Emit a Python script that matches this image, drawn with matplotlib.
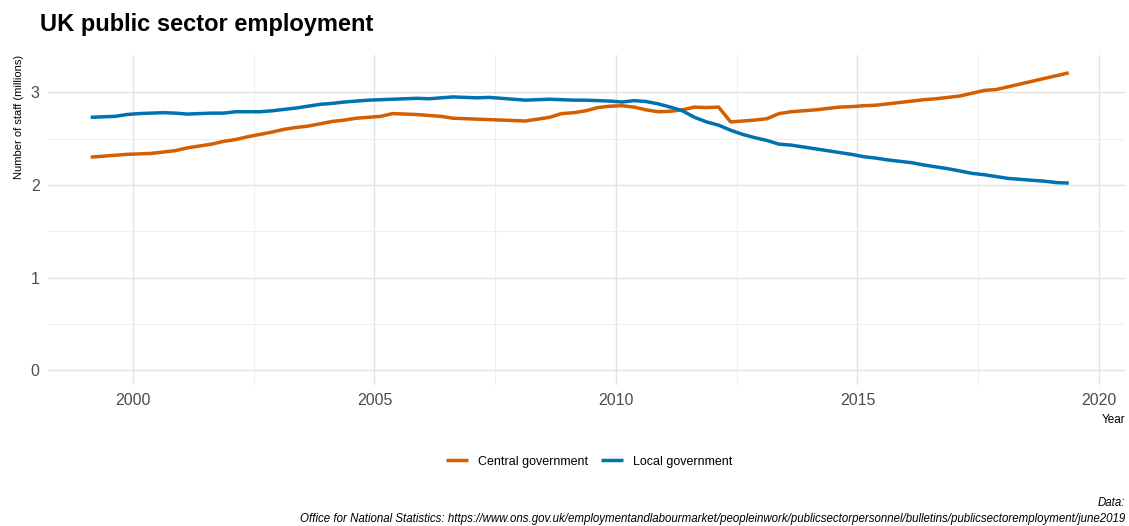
import matplotlib
matplotlib.use("Agg")
import matplotlib.pyplot as plt
import numpy as np
from matplotlib.ticker import MultipleLocator

plt.rcParams['font.family'] = ['Liberation Sans', 'DejaVu Sans']

# quarterly data, 1999 Q1 .. 2019 Q2 (millions of staff)
start_year = 1999.125
central = [2.30, 2.31, 2.32, 2.33, 2.335, 2.34, 2.355, 2.37, 2.40, 2.42,
           2.44, 2.47, 2.49, 2.52, 2.545, 2.57, 2.60, 2.62, 2.635, 2.66,
           2.685, 2.70, 2.72, 2.73, 2.74, 2.77, 2.765, 2.76, 2.75, 2.74,
           2.72, 2.715, 2.71, 2.705, 2.70, 2.695, 2.69, 2.71, 2.73, 2.77,
           2.78, 2.80, 2.835, 2.85, 2.855, 2.84, 2.81, 2.79, 2.795, 2.81,
           2.84, 2.835, 2.84, 2.68, 2.69, 2.70, 2.715, 2.77, 2.79, 2.80,
           2.81, 2.825, 2.84, 2.845, 2.855, 2.86, 2.875, 2.89, 2.905, 2.92,
           2.93, 2.945, 2.96, 2.99, 3.02, 3.03, 3.06, 3.09, 3.12, 3.15,
           3.18, 3.21]
local = [2.73, 2.735, 2.74, 2.76, 2.77, 2.775, 2.78, 2.775, 2.765, 2.77,
         2.775, 2.775, 2.79, 2.79, 2.79, 2.80, 2.815, 2.83, 2.85, 2.87,
         2.88, 2.895, 2.905, 2.915, 2.92, 2.925, 2.93, 2.935, 2.93, 2.94,
         2.95, 2.945, 2.94, 2.945, 2.935, 2.925, 2.915, 2.92, 2.925, 2.92,
         2.915, 2.915, 2.91, 2.905, 2.895, 2.91, 2.90, 2.875, 2.84, 2.80,
         2.73, 2.68, 2.645, 2.59, 2.545, 2.51, 2.48, 2.44, 2.43, 2.41,
         2.39, 2.37, 2.35, 2.33, 2.305, 2.29, 2.27, 2.255, 2.24, 2.215,
         2.195, 2.175, 2.15, 2.125, 2.11, 2.09, 2.07, 2.06, 2.05, 2.04,
         2.025, 2.02]
series_names = ['Central government', 'Local government']
colors = ['#D55E00', '#0072B2']

years = start_year + 0.25 * np.arange(len(central))

fig = plt.figure(figsize=(11.29, 5.26), dpi=100)
ax = fig.add_axes([0.0425, 0.268, 0.954, 0.627])

for vals, name, c in zip([central, local], series_names, colors):
    ax.plot(years, vals, color=c, lw=2.5, label=name, solid_capstyle='butt')

ax.set_xlim(1998.24, 2020.54)
ax.set_ylim(-0.16, 3.40)
ax.xaxis.set_major_locator(MultipleLocator(5))
ax.xaxis.set_minor_locator(MultipleLocator(2.5))
ax.yaxis.set_major_locator(MultipleLocator(1))
ax.yaxis.set_minor_locator(MultipleLocator(0.5))
ax.grid(which='major', color='#e3e3e3', lw=1.0)
ax.grid(which='minor', color='#efefef', lw=0.8)
ax.set_axisbelow(True)
for s in ax.spines.values():
    s.set_visible(False)
ax.tick_params(which='both', length=0, labelsize=11.5, labelcolor='#4d4d4d', pad=6)

ax.set_ylabel('Number of staff (millions)', fontsize=8, loc='top', labelpad=5)
ax.set_xlabel('Year', fontsize=8.5, loc='right', labelpad=4)

fig.text(0.035, 0.953, 'UK public sector employment', fontsize=17, fontweight='bold',
         va='center', ha='left')

fig.legend(loc='center', bbox_to_anchor=(0.522, 0.122), ncol=2, frameon=False,
           fontsize=9, handlelength=1.8, columnspacing=1.0, handletextpad=0.8)

fig.text(0.997, 0.044, 'Data:', fontsize=8.3, style='italic', ha='right', va='center')
fig.text(0.997, 0.013,
         'Office for National Statistics: https://www.ons.gov.uk/employmentandlabourmarket/peopleinwork/publicsectorpersonnel/bulletins/publicsectoremployment/june2019',
         fontsize=8.3, style='italic', ha='right', va='center')

fig.savefig('out.png', dpi=100)
